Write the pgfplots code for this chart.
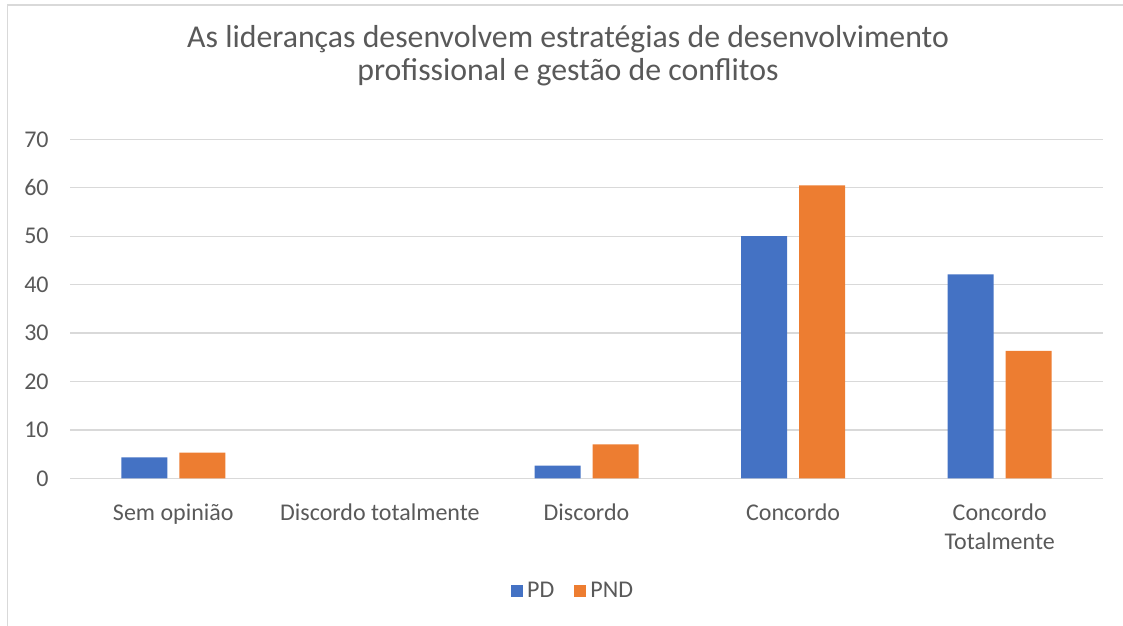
\documentclass[border=0pt]{standalone}
\usepackage{pgfplots}
\pgfplotsset{compat=1.18}
\usepackage{fontspec}
\setmainfont{Carlito}
\definecolor{cblue}{HTML}{4472C4}
\definecolor{corange}{HTML}{ED7D31}
\definecolor{cgrid}{HTML}{D9D9D9}
\definecolor{ctext}{HTML}{595959}
\begin{document}
\begin{tikzpicture}
\begin{axis}[
  at={(35bp,73.85bp)}, anchor=south west,
  scale only axis, width=516.5bp, height=169.5bp,
  ybar=6bp, bar width=23bp,
  xmin=-0.5, xmax=4.5, ymin=0, ymax=70,
  restrict y to domain=0.001:100,
  xtick={0,1,2,3,4},
  xticklabels={Sem opinião, Discordo totalmente, Discordo, Concordo, {Concordo\\Totalmente}},
  ytick={0,10,...,70},
  ymajorgrids, grid style={cgrid, line width=0.65bp},
  axis line style={draw=none},
  major tick style={draw=none},
  tick label style={font=\fontsize{12bp}{14.2bp}\selectfont, text=ctext},
  xticklabel style={anchor=north, inner sep=0pt, yshift=-8.5bp, align=center},
  yticklabel style={anchor=east, inner sep=0pt, xshift=-10.5bp},
  /pgf/number format/assume math mode=true,
  legend style={draw=none, legend columns=2, at={(axis description cs:0.488,-0.332)}, anchor=center,
    font=\fontsize{12bp}{14bp}\selectfont, text=ctext,
    /tikz/every even column/.append style={column sep=8bp}},
  legend image code/.code={\fill[#1] (0bp,-3bp) rectangle (6bp,3bp);},
]
\addplot[fill=cblue, draw=none] coordinates {(0,4.3) (1,0) (2,2.6) (3,50.0) (4,42.1)};
\addplot[fill=corange, draw=none] coordinates {(0,5.3) (1,0) (2,7.0) (3,60.5) (4,26.3)};
\legend{PD, PND}
\end{axis}
\node[anchor=base, text=ctext, font=\fontsize{15.9bp}{19bp}\selectfont, inner sep=0pt] at (284bp,289bp) {As lideranças desenvolvem estratégias de desenvolvimento};
\node[anchor=base, text=ctext, font=\fontsize{15.9bp}{19bp}\selectfont, inner sep=0pt] at (284bp,272.5bp) {profissional e gestão de conflitos};
\draw[cgrid, line width=0.75bp] (3.65bp,0bp) -- (3.65bp,310.5bp) -- (561.5bp,310.5bp);
\pgfresetboundingbox
\useasboundingbox (0,0) rectangle (561.5bp,313bp);
\end{tikzpicture}
\end{document}
